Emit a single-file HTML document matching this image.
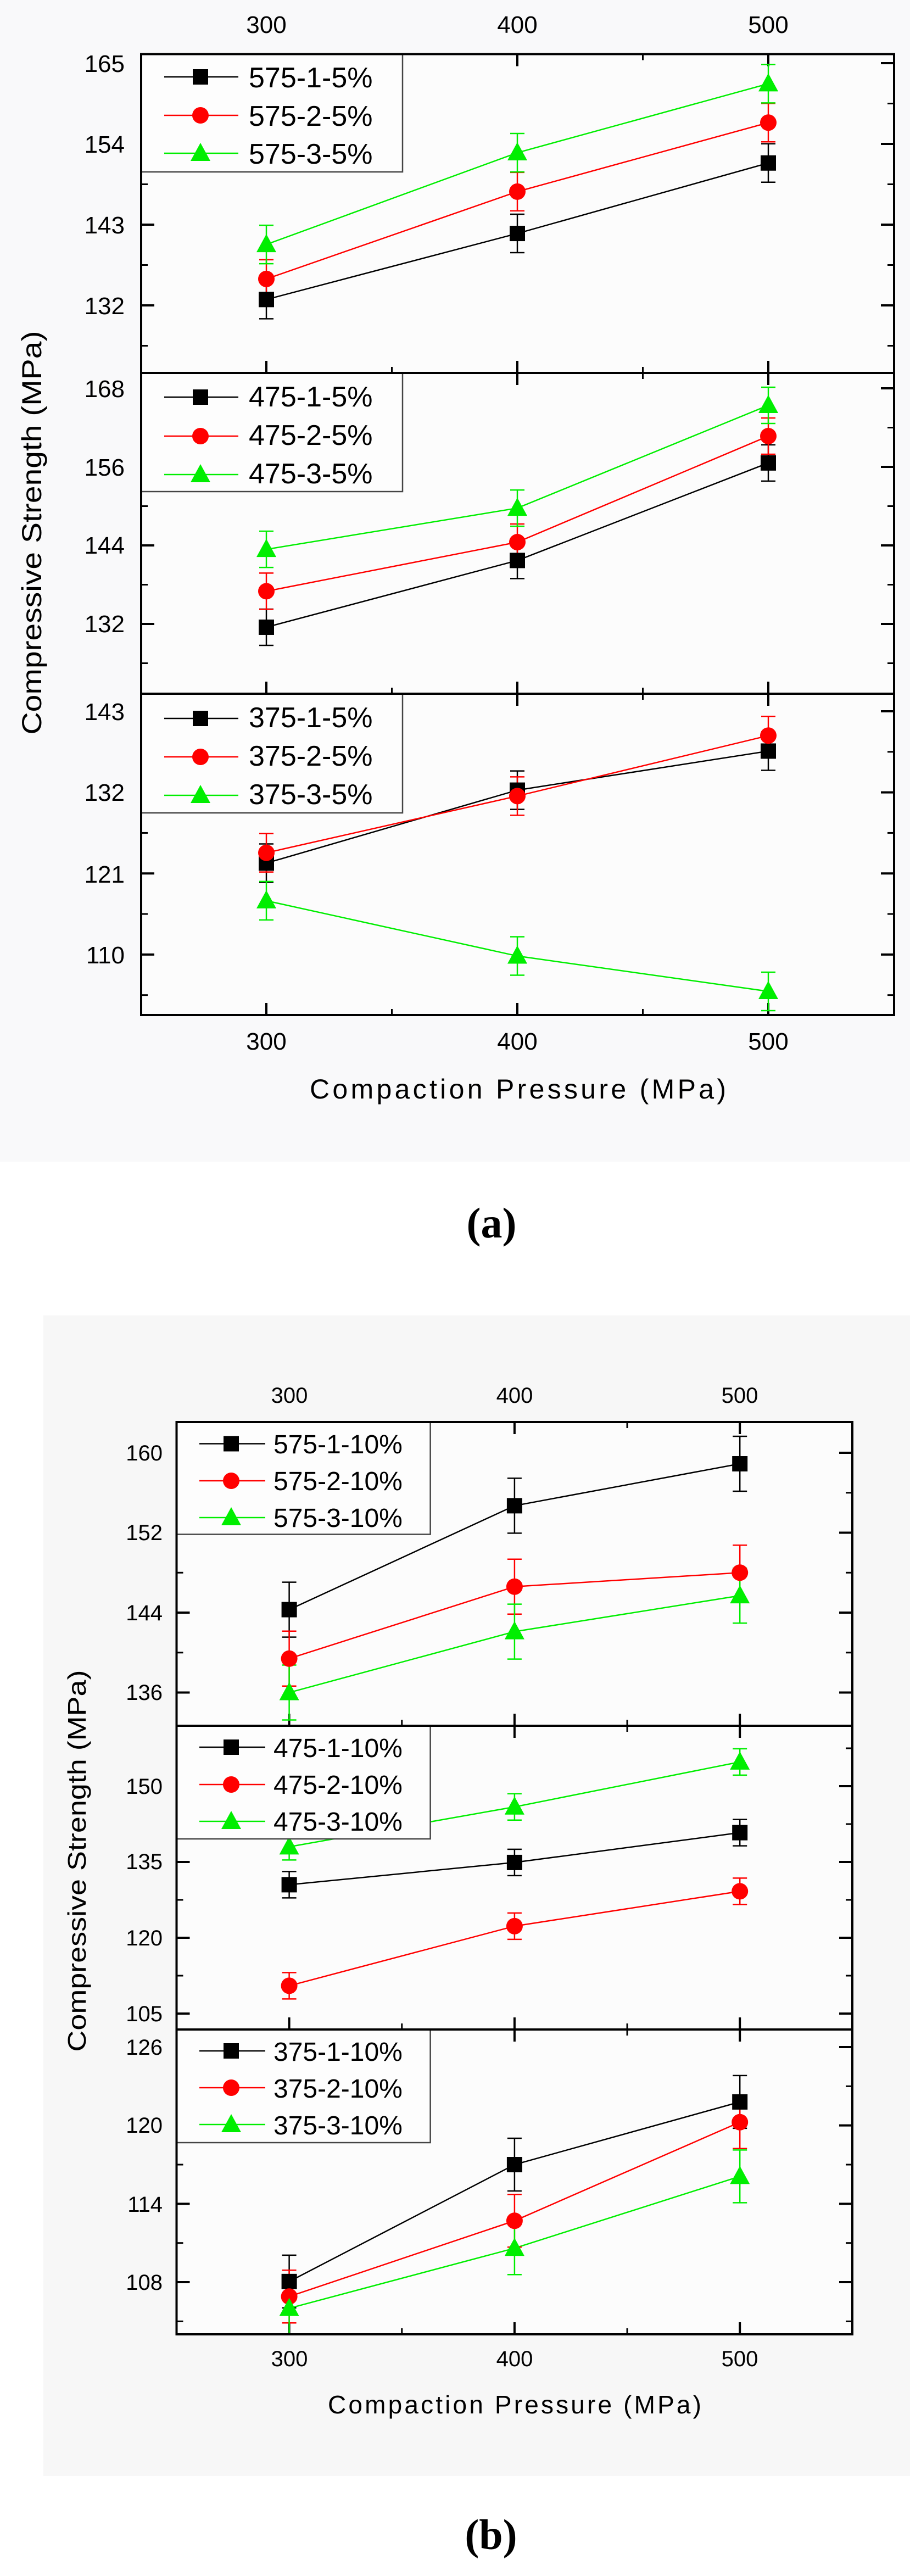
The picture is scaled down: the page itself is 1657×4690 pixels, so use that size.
<!DOCTYPE html>
<html><head><meta charset="utf-8"><style>
html,body{margin:0;padding:0;background:#fff;}
svg{display:block;font-family:"Liberation Sans",Arial,sans-serif;}
</style></head><body>
<svg id="s" width="1657" height="4690" viewBox="0 0 1657 4690" xmlns="http://www.w3.org/2000/svg">
<rect x="0" y="0" width="1657" height="2115" fill="#f9f9fa"/>
<rect x="79" y="2395" width="1578" height="2113" fill="#f7f7f7"/>
<g id="g"></g>
<g font-size="44" fill="#000" text-anchor="middle">
<text x="485" y="60">300</text><text x="942" y="60">400</text><text x="1399" y="60">500</text>
<text x="485" y="1911">300</text><text x="942" y="1911">400</text><text x="1399" y="1911">500</text>
</g>
<g font-size="44" fill="#000" text-anchor="end">
<text x="227" y="131">165</text><text x="227" y="278">154</text><text x="227" y="425">143</text><text x="227" y="572">132</text>
<text x="227" y="723">168</text><text x="227" y="866">156</text><text x="227" y="1008">144</text><text x="227" y="1151">132</text>
<text x="227" y="1311">143</text><text x="227" y="1458">132</text><text x="227" y="1607">121</text><text x="227" y="1754">110</text>
</g>
<text x="943" y="2000" font-size="50" text-anchor="middle" textLength="758" lengthAdjust="spacing">Compaction Pressure (MPa)</text>
<text transform="translate(75,970) rotate(-90)" font-size="50" text-anchor="middle" textLength="735" lengthAdjust="spacingAndGlyphs">Compressive Strength (MPa)</text>
<text x="895" y="2253" font-size="78" font-weight="bold" text-anchor="middle" font-family="Liberation Serif,serif">(a)</text>

<g font-size="40" fill="#000" text-anchor="middle">
<text x="527" y="2554">300</text><text x="937" y="2554">400</text><text x="1347" y="2554">500</text>
<text x="527" y="4308">300</text><text x="937" y="4308">400</text><text x="1347" y="4308">500</text>
</g>
<g font-size="40" fill="#000" text-anchor="end">
<text x="296" y="2659">160</text><text x="296" y="2804">152</text><text x="296" y="2950">144</text><text x="296" y="3095">136</text>
<text x="296" y="3266">150</text><text x="296" y="3403">135</text><text x="296" y="3542">120</text><text x="296" y="3680">105</text>
<text x="296" y="3741">126</text><text x="296" y="3883">120</text><text x="296" y="4027">114</text><text x="296" y="4169">108</text>
</g>
<text x="937" y="4394" font-size="46" text-anchor="middle" textLength="680" lengthAdjust="spacing">Compaction Pressure (MPa)</text>
<text transform="translate(156,3388) rotate(-90)" font-size="46" text-anchor="middle" textLength="695" lengthAdjust="spacingAndGlyphs">Compressive Strength (MPa)</text>
<text x="894" y="4641" font-size="78" font-weight="bold" text-anchor="middle" font-family="Liberation Serif,serif">(b)</text>

<g id="leg"></g>
<g font-size="52" fill="#000">
<text x="453" y="159">575-1-5%</text><text x="453" y="229">575-2-5%</text><text x="453" y="298">575-3-5%</text>
<text x="453" y="740">475-1-5%</text><text x="453" y="810">475-2-5%</text><text x="453" y="880">475-3-5%</text>
<text x="453" y="1324">375-1-5%</text><text x="453" y="1394">375-2-5%</text><text x="453" y="1464">375-3-5%</text>
</g>
<g font-size="48" fill="#000">
<text x="498" y="2646">575-1-10%</text><text x="498" y="2713">575-2-10%</text><text x="498" y="2780">575-3-10%</text>
<text x="498" y="3199">475-1-10%</text><text x="498" y="3266">475-2-10%</text><text x="498" y="3333">475-3-10%</text>
<text x="498" y="3752">375-1-10%</text><text x="498" y="3819">375-2-10%</text><text x="498" y="3886">375-3-10%</text>
</g>
</svg>
<script>
(function(){
var NS="http://www.w3.org/2000/svg",g=document.getElementById('g'),lg=document.getElementById('leg');
function el(p,t,a){var e=document.createElementNS(NS,t);for(var k in a)e.setAttribute(k,a[k]);p.appendChild(e);return e;}
var C=['#000','#f00','#0e0'];
function marker(p,k,x,y,s){
 if(k==0)el(p,'rect',{x:x-14,y:y-14,width:28,height:28,fill:C[0]});
 else if(k==1)el(p,'circle',{cx:x,cy:y,r:15,fill:C[1]});
 else el(p,'polygon',{points:(x-18)+','+(y+14)+' '+(x+18)+','+(y+14)+' '+x+','+(y-19),fill:C[2]});
}
var panels=[
 {L:257,R:1628,T:98.5,B:679,x0:485,xs:4.57,v0:165,y0:115,ys:13.364,maj:[165,154,143,132],min:[159.5,148.5,137.5,126.5],err:35,
  d:[[132.8,141.8,151.4],[135.6,147.5,156.9],[140.3,152.8,162.2]],lgR:733,lgB:313,rows:[140,210,279],lx:[299,434,365]},
 {L:257,R:1628,T:679,B:1263,x0:485,xs:4.57,v0:168,y0:707,ys:11.917,maj:[168,156,144,132],min:[162,150,138,126],err:33,
  d:[[131.5,141.7,156.6],[137.0,144.5,160.7],[143.4,149.7,165.4]],lgR:733,lgB:895,rows:[723,794,864],lx:[299,434,365]},
 {L:257,R:1628,T:1263,B:1848,x0:485,xs:4.57,v0:143,y0:1295,ys:13.42,maj:[143,132,121,110],min:[137.5,126.5,115.5,104.5],err:35,
  d:[[122.4,132.3,137.6],[123.8,131.5,139.7],[117.3,109.8,105.0]],lgR:733,lgB:1480,rows:[1308,1378,1448],lx:[299,434,365]},
 {L:321.5,R:1552,T:2589,B:3142,x0:526.6,xs:4.103,v0:160,y0:2645,ys:18.19,maj:[160,152,144,136],min:[156,148,140],err:50,
  d:[[144.3,154.7,158.9],[139.4,146.6,148.0],[136,142.1,145.7]],lgR:783.6,lgB:2793.5,rows:[2628.5,2696,2763],lx:[363,483,421]},
 {L:321.5,R:1552,T:3142,B:3695,x0:526.6,xs:4.103,v0:150,y0:3252,ys:9.2,maj:[150,135,120,105],min:[157.5,142.5,127.5,112.5],err:24,
  d:[[130.5,134.9,140.8],[110.5,122.3,129.2],[138,145.9,154.8]],lgR:783.6,lgB:3348,rows:[3181,3249,3316],lx:[363,483,421]},
 {L:321.5,R:1552,T:3695,B:4250,x0:526.6,xs:4.103,v0:126,y0:3727,ys:23.78,maj:[126,120,114,108],min:[123,117,111,105],err:48,
  d:[[108.05,117,121.8],[106.9,112.7,120.25],[106,110.6,116.1]],lgR:783.6,lgB:3901,rows:[3734,3801,3868],lx:[363,483,421]}
];
panels.forEach(function(P){
 function Y(v){return P.y0+(P.v0-v)*P.ys;}
 function X(v){return P.x0+(v-300)*P.xs;}
 el(g,'rect',{x:P.L,y:P.T,width:P.R-P.L,height:P.B-P.T,fill:'#fcfcfc',stroke:'none'});
 P.maj.forEach(function(v){var y=Y(v);el(g,'line',{x1:P.L,x2:P.L+24,y1:y,y2:y,stroke:'#000','stroke-width':4});el(g,'line',{x1:P.R-24,x2:P.R,y1:y,y2:y,stroke:'#000','stroke-width':4});});
 P.min.forEach(function(v){var y=Y(v);el(g,'line',{x1:P.L,x2:P.L+12,y1:y,y2:y,stroke:'#000','stroke-width':3});el(g,'line',{x1:P.R-12,x2:P.R,y1:y,y2:y,stroke:'#000','stroke-width':3});});
 [300,400,500].forEach(function(v){var x=X(v);el(g,'line',{x1:x,x2:x,y1:P.B-22,y2:P.B,stroke:'#000','stroke-width':4});el(g,'line',{x1:x,x2:x,y1:P.T,y2:P.T+22,stroke:'#000','stroke-width':4});});
 [350,450].forEach(function(v){var x=X(v);el(g,'line',{x1:x,x2:x,y1:P.B-11,y2:P.B,stroke:'#000','stroke-width':3});el(g,'line',{x1:x,x2:x,y1:P.T,y2:P.T+11,stroke:'#000','stroke-width':3});});
 var cp='c'+P.T;var cl=el(g,'clipPath',{id:cp});el(cl,'rect',{x:P.L,y:P.T,width:P.R-P.L,height:P.B-P.T});
 var gg=el(g,'g',{'clip-path':'url(#'+cp+')'});
 P.d.forEach(function(s,k){
  var pts=s.map(function(v,i){return X(300+100*i)+','+Y(v);}).join(' ');
  el(gg,'polyline',{points:pts,fill:'none',stroke:C[k],'stroke-width':2.5});
 });
 P.d.forEach(function(s,k){
  s.forEach(function(v,i){var x=X(300+100*i),y=Y(v),e=P.err;
   el(gg,'line',{x1:x,x2:x,y1:y-e,y2:y+e,stroke:C[k],'stroke-width':2.5});
   el(gg,'line',{x1:x-13,x2:x+13,y1:y-e,y2:y-e,stroke:C[k],'stroke-width':2.5});
   el(gg,'line',{x1:x-13,x2:x+13,y1:y+e,y2:y+e,stroke:C[k],'stroke-width':2.5});
  });
 });
 P.d.forEach(function(s,k){s.forEach(function(v,i){marker(gg,k,X(300+100*i),Y(v));});});
 el(lg,'rect',{x:P.L,y:P.T,width:P.lgR-P.L,height:P.lgB-P.T,fill:'#fdfdfd',stroke:'#444','stroke-width':2.5});
 P.rows.forEach(function(y,k){el(lg,'line',{x1:P.lx[0],x2:P.lx[1],y1:y,y2:y,stroke:C[k],'stroke-width':2.5});marker(lg,k,P.lx[2],y);});
 el(lg,'rect',{x:P.L,y:P.T,width:P.R-P.L,height:P.B-P.T,fill:'none',stroke:'#000','stroke-width':4});
});
})();
</script>
</body></html>
